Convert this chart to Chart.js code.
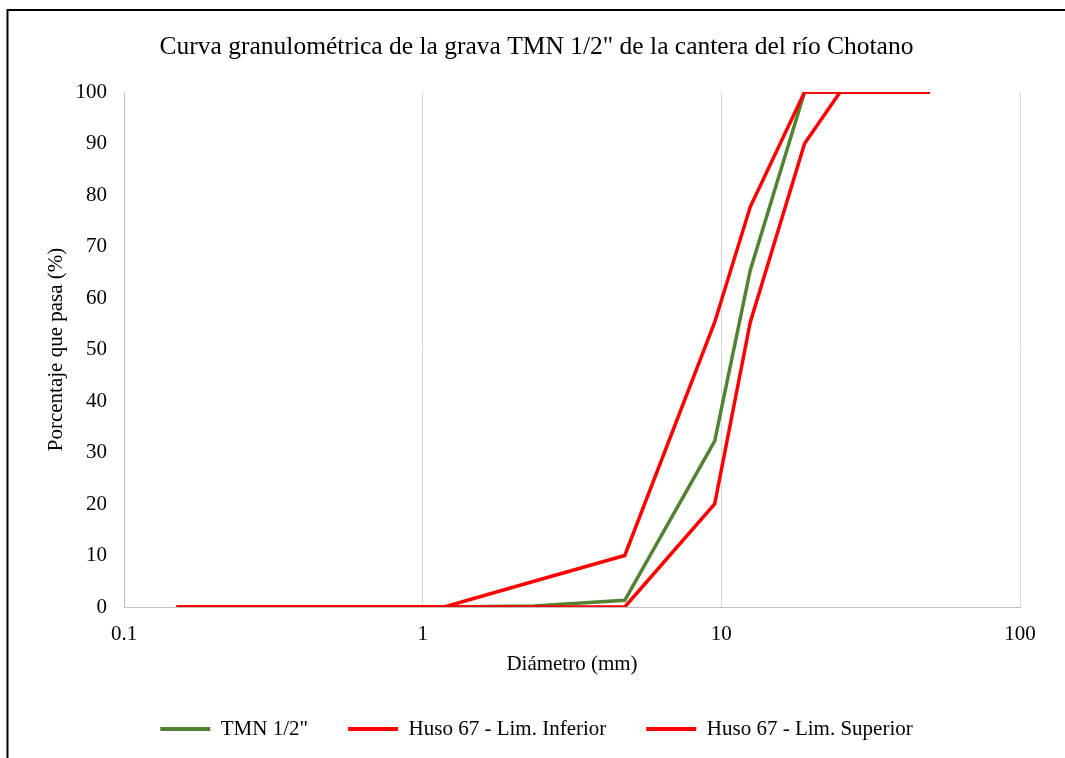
<!DOCTYPE html>
<html>
<head>
<meta charset="utf-8">
<script src="https://cdn.jsdelivr.net/npm/chart.js@4"></script>
<style>
  html, body { margin: 0; padding: 0; background: #fff; }
  #wrap { position: relative; width: 1065px; height: 758px; }
</style>
</head>
<body>
<div id="wrap"><canvas id="c" width="1065" height="758"></canvas></div>
<script>
// Sieve openings (mm)
const sieveSizes = [50, 37.5, 25, 19, 12.5, 9.5, 4.75, 2.36, 1.18, 0.6, 0.3, 0.15];
// % passing
const tmnValues      = [100, 100, 100, 100, 65.4, 32.2, 1.3, 0.2, 0, 0, 0, 0];
const limInferior    = [100, 100, 100, 90, 55.3, 20, 0, 0, 0, 0, 0, 0];
const limSuperior    = [100, 100, 100, 100, 77.7, 55.3, 10, 5, 0, 0, 0, 0];
const xTickValues    = [0.1, 1, 10, 100];
const seriesNames    = ['TMN 1/2"', 'Huso 67 - Lim. Inferior', 'Huso 67 - Lim. Superior'];
const chartTitle     = 'Curva granulométrica de la grava TMN 1/2" de la cantera del río Chotano';
const xTitle         = 'Diámetro (mm)';
const yTitle         = 'Porcentaje que pasa (%)';

const toPts = (vals) => sieveSizes.map((s, i) => ({ x: s, y: vals[i] }));

Chart.defaults.font.family = "'Liberation Serif', 'Times New Roman', serif";
Chart.defaults.color = '#000';

const framePlugin = {
  id: 'frame',
  beforeDraw(chart) {
    const ctx = chart.ctx;
    ctx.save();
    ctx.fillStyle = '#fff';
    ctx.fillRect(0, 0, chart.width, chart.height);
    ctx.strokeStyle = '#000';
    ctx.lineWidth = 2;
    ctx.strokeRect(7.5, 10, 3000, 3000);
    ctx.restore();
  }
};

new Chart(document.getElementById('c'), {
  type: 'line',
  data: {
    datasets: [
      { label: seriesNames[0], data: toPts(tmnValues), borderColor: '#548235', backgroundColor: '#548235', borderWidth: 3.5, pointRadius: 0, tension: 0, order: 3 },
      { label: seriesNames[1], data: toPts(limInferior), borderColor: '#ff0000', backgroundColor: '#ff0000', borderWidth: 3.5, pointRadius: 0, tension: 0, order: 2 },
      { label: seriesNames[2], data: toPts(limSuperior), borderColor: '#ff0000', backgroundColor: '#ff0000', borderWidth: 3.5, pointRadius: 0, tension: 0, order: 1 }
    ]
  },
  options: {
    responsive: false,
    animation: false,
    layout: { padding: { left: 8, right: 0, top: 0, bottom: 8.5 } },
    plugins: {
      title: {
        display: true,
        text: chartTitle,
        font: { size: 25.5, weight: 'normal' },
        color: '#000',
        padding: { top: 32, bottom: 29.4 }
      },
      legend: {
        position: 'bottom',
        labels: {
          boxWidth: 50,
          boxHeight: 4,
          padding: 40,
          font: { size: 21 },
          color: '#000',
          sort: (a, b) => a.datasetIndex - b.datasetIndex,
          generateLabels(chart) {
            return chart.data.datasets.map((ds, i) => ({
              text: ds.label,
              fillStyle: ds.borderColor,
              strokeStyle: ds.borderColor,
              lineWidth: 0,
              hidden: false,
              datasetIndex: i
            }));
          }
        }
      },
      tooltip: { enabled: false }
    },
    scales: {
      x: {
        type: 'logarithmic',
        min: 0.1,
        max: 100,
        afterBuildTicks(scale) { scale.ticks = xTickValues.map(v => ({ value: v })); },
        afterFit(scale) { scale.height = 71.5; },
        ticks: {
          padding: 15,
          font: { size: 21 },
          color: '#000',
          autoSkip: false,
          maxRotation: 0,
          callback: (v) => String(v)
        },
        grid: { color: '#d9d9d9', lineWidth: 1, drawTicks: false },
        border: { color: '#bfbfbf', width: 1 },
        title: { display: true, text: xTitle, font: { size: 21 }, color: '#000', padding: { top: 0, bottom: 1 } }
      },
      y: {
        min: 0,
        max: 100,
        afterFit(scale) { scale.width = 116; },
        ticks: { stepSize: 10, padding: 17, font: { size: 21 }, color: '#000' },
        grid: { display: false, drawTicks: false },
        border: { display: true, color: '#bfbfbf', width: 1 },
        title: { display: true, text: yTitle, font: { size: 21 }, color: '#000', padding: { top: 36, bottom: 0 } }
      },
      yRightSpacer: {
        position: 'right',
        min: 0,
        max: 100,
        afterFit(scale) { scale.width = 45; },
        ticks: { display: false },
        grid: { display: false, drawTicks: false },
        border: { display: false }
      }
    }
  },
  plugins: [framePlugin]
});
</script>
</body>
</html>
